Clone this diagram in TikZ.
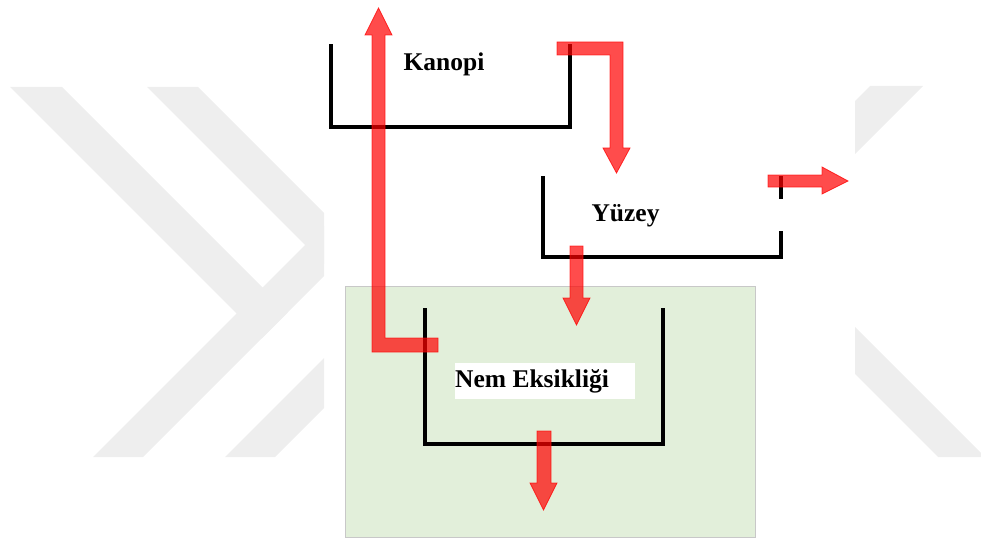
\documentclass[tikz,border=0pt]{standalone}
\usepackage{fontspec}
\setmainfont{Liberation Serif}
\definecolor{wm}{RGB}{238,238,238}
\definecolor{greenbg}{RGB}{226,239,218}
\definecolor{greenbd}{RGB}{200,200,200}
\definecolor{arrowred}{RGB}{255,0,0}
\begin{document}
\begin{tikzpicture}[x=1pt,y=-1pt,
  bucket/.style={line width=3.6pt, black, line cap=rect},
  flow/.style={fill=arrowred, fill opacity=0.7, draw=arrowred, draw opacity=0.75, line width=0.8pt, line join=miter},
  lbl/.style={font=\fontsize{25.5}{28}\selectfont\bfseries, inner sep=0pt}]
\useasboundingbox (0,0) rectangle (981,540);
% watermark
\fill[wm] (10,87) -- (62,87) -- (287.5,312.5) -- (261.5,338.5) -- cycle;
\fill[wm] (93,457) -- (143,457) -- (324,276) -- (324,226) -- cycle;
\fill[wm] (147,87) -- (198,87) -- (324,213) -- (324,264) -- cycle;
\fill[wm] (225,457) -- (275,457) -- (324,408) -- (324,358) -- cycle;
\fill[wm] (870,86) -- (923,86) -- (855,154) -- (855,101) -- cycle;
\fill[wm] (855,327) -- (855,374) -- (938,457) -- (981,457) -- (981,453) -- cycle;
% green panel
\node[draw=greenbd, fill=greenbg, line width=0.8pt, minimum width=410pt, minimum height=251pt, inner sep=0pt, anchor=north west] (panel) at (345,286) {};
% buckets
\draw[bucket] (331,46) -- (331,127) -- (570,127) -- (570,46);
\draw[bucket] (543,178) -- (543,257) -- (781,257) -- (781,233);
\draw[bucket] (781,178) -- (781,197);
\draw[bucket] (425,310) -- (425,444) -- (663,444) -- (663,310);
% labels
\node[lbl, anchor=base] (kanopi) at (444,71) {Kanopi};
\node[lbl, anchor=base] (yuzey) at (625.5,221) {Yüzey};
\fill[white] (455,363) rectangle (635,399);
\node[lbl, anchor=base west] (nem) at (455,387) {Nem Eksikliği};
% red flow arrows
\path[flow] (372,35) -- (365,35) -- (378.5,8) -- (392,35) -- (385,35) -- (385,338) -- (438,338) -- (438,352) -- (372,352) -- cycle;
\path[flow] (557,42) -- (623,42) -- (623,148) -- (630,148) -- (616.5,173) -- (603,148) -- (610,148) -- (610,55) -- (557,55) -- cycle;
\path[flow] (768,175) -- (822,175) -- (822,167) -- (848,181) -- (822,194) -- (822,187) -- (768,187) -- cycle;
\path[flow] (570,246) -- (583,246) -- (583,298) -- (590,298) -- (576.5,325) -- (563,298) -- (570,298) -- cycle;
\path[flow] (537,431) -- (551,431) -- (551,483) -- (557,483) -- (543.5,510) -- (530,483) -- (537,483) -- cycle;
\end{tikzpicture}
\end{document}
